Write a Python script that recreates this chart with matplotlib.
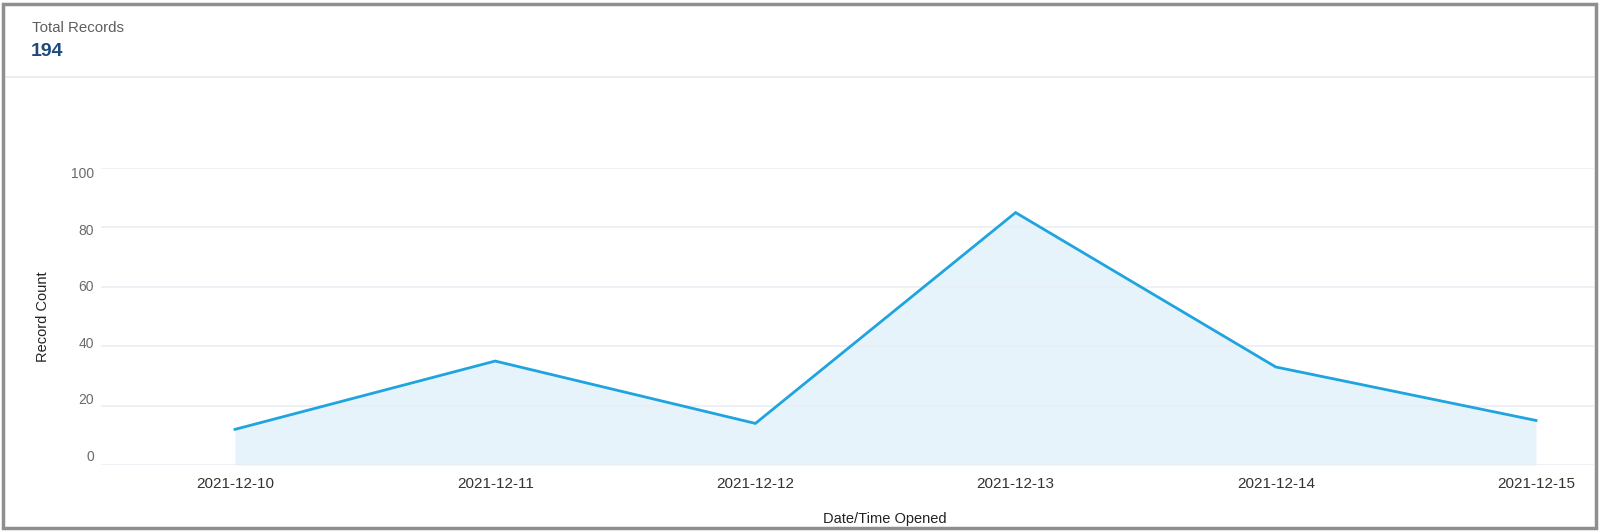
import matplotlib
matplotlib.use("Agg")
import matplotlib.pyplot as plt
from matplotlib.patches import Rectangle
from matplotlib.lines import Line2D

dates = ["2021-12-10", "2021-12-11", "2021-12-12", "2021-12-13", "2021-12-14", "2021-12-15"]
counts = [12, 35, 14, 85, 33, 15]
y_ticks = [0, 20, 40, 60, 80, 100]
total_label = "Total Records"
total_value = sum(counts)

plt.rcParams['font.family'] = ['Liberation Sans', 'DejaVu Sans']

W, H = 1600, 531
fig = plt.figure(figsize=(W / 100, H / 100), dpi=100)
fig.patch.set_facecolor("white")

# Outer frame
fig.add_artist(Rectangle((3 / W, 3 / H), (W - 7) / W, (H - 7) / H, transform=fig.transFigure,
                         fill=False, edgecolor="#8f8f8f", linewidth=2.5, zorder=10))
# header separator
fig.add_artist(Line2D([6 / W, (W - 6) / W], [1 - 77 / H, 1 - 77 / H], transform=fig.transFigure,
                      color="#e6ebee", linewidth=1.2))

fig.text(32 / W, 1 - 28 / H, total_label, fontsize=10.8, color="#5f5f5f", va="center", ha="left")
fig.text(31 / W, 1 - 52 / H, str(total_value), fontsize=14, color="#1c4a7a", va="center", ha="left",
         fontweight="bold")

# Axes
left_px, right_px, top_px, bot_px = 101, 1594, 168, 465
ax = fig.add_axes([left_px / W, 1 - bot_px / H, (right_px - left_px) / W, (bot_px - top_px) / H])
x = list(range(len(dates)))
x0_px, step_px = 235, 260.2
ax.set_xlim((left_px - x0_px) / step_px, (right_px - x0_px) / step_px)
ax.set_ylim(0, 100)

ax.fill_between(x, counts, 0, color="#e6f3fb", linewidth=0, zorder=1)
ax.plot(x, counts, color="#1fa4e0", linewidth=2, zorder=3, solid_joinstyle="miter")

for s in ax.spines.values():
    s.set_visible(False)
ax.set_yticks(y_ticks)
ax.set_yticklabels([])
ax.grid(axis="y", color="#e8eef3", linewidth=1.1, zorder=2)
ax.set_axisbelow(False)
ax.tick_params(axis="y", length=0)

# y tick labels: slightly compressed spacing as in the reference
px_per_unit = (bot_px - top_px) / 100.0
for v in y_ticks:
    label_px = 457 - v * (457 - 174) / 100.0
    y_data = (bot_px - label_px) / px_per_unit
    ax.text(-(left_px - 94) / (right_px - left_px), y_data, str(v), transform=ax.get_yaxis_transform(),
            ha="right", va="center", fontsize=10, color="#6b6b6b")

ax.set_xticks(x)
ax.set_xticklabels(dates)
ax.tick_params(axis="x", length=0, pad=9, labelsize=11, labelcolor="#333333")
ax.set_ylabel("Record Count", fontsize=10.5, color="#222222")
ax.set_xlabel("Date/Time Opened", fontsize=10.5, color="#222222")
ax.xaxis.set_label_coords((885 - left_px) / (right_px - left_px), -(512 - bot_px) / (bot_px - top_px))
ax.yaxis.set_label_coords(-(left_px - 50) / (right_px - left_px), 0.5)

fig.savefig("out.png", dpi=100, facecolor="white")
